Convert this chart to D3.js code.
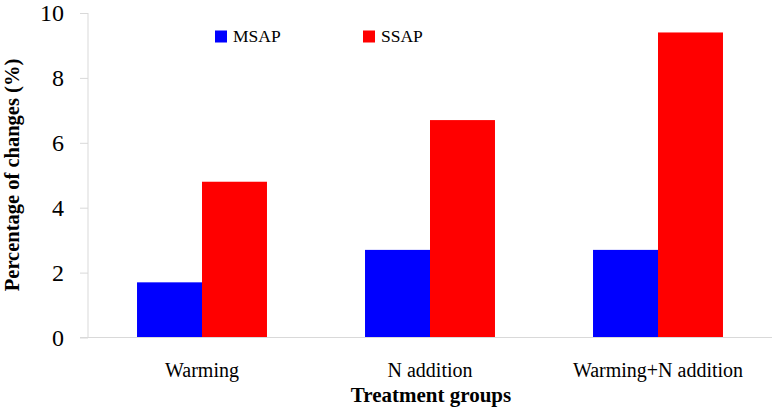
<!DOCTYPE html>
<html><head><meta charset="utf-8">
<script src="https://cdn.jsdelivr.net/npm/d3@7"></script>
<style>body{margin:0;background:#fff}svg{display:block}text{font-family:"Liberation Serif","Times New Roman",serif !important;fill:#000}</style>
</head><body><svg id="c" width="778" height="415"></svg>
<script>
const categories = ["Warming", "N addition", "Warming+N addition"];
const seriesNames = ["MSAP", "SSAP"];
const msap = [1.7, 2.7, 2.7];
const ssap = [4.8, 6.7, 9.4];
const yTicks = [0, 2, 4, 6, 8, 10];
const colors = ["#0000ff", "#ff0000"];

const svg = d3.select("#c");
const m = {left: 88, right: 6, top: 13, bottom: 77.5};
const W = 778, H = 415;
const x = d3.scaleBand().domain(categories).range([m.left, W - m.right]).paddingInner(0.43).paddingOuter(0.215);
const xs = d3.scaleBand().domain(seriesNames).range([0, x.bandwidth()]);
const y = d3.scaleLinear().domain([0, 10]).range([H - m.bottom, m.top]);
const vals = [msap, ssap];
const SERIF = '"Liberation Serif","Times New Roman",serif';

// bars
seriesNames.forEach((s, si) => {
  svg.append("g").selectAll("rect").data(categories).join("rect")
    .attr("x", c => x(c) + xs(s))
    .attr("width", xs.bandwidth())
    .attr("y", (c, i) => y(vals[si][i]))
    .attr("height", (c, i) => y(0) - y(vals[si][i]))
    .attr("fill", colors[si]);
});

// y axis
const ya = svg.append("g").attr("transform", `translate(${m.left},0)`)
  .call(d3.axisLeft(y).tickValues(yTicks).tickSize(8).tickPadding(16).tickFormat(d3.format("d")))
  .attr("font-family", SERIF);
ya.select(".domain").attr("stroke", "#d9d9d9").attr("d", `M0,${y(10)}V${y(0)}`);
ya.selectAll(".tick line").attr("stroke", "#d9d9d9");
ya.selectAll(".tick text").style("font-size", "24px").style("font-family", SERIF).attr("fill", "#000");

// x axis
const xa = svg.append("g").attr("transform", `translate(0,${y(0)})`)
  .call(d3.axisBottom(x).tickSize(0).tickPadding(25))
  .attr("font-family", SERIF);
xa.select(".domain").attr("stroke", "#d9d9d9").attr("d", `M${m.left - 8},0H${W - m.right}`);
xa.selectAll(".tick text").style("font-size", "20px").style("font-family", SERIF).attr("fill", "#000");

// axis titles
svg.append("text").attr("x", (m.left + W - m.right) / 2 + 1).attr("y", 402)
  .attr("text-anchor", "middle").attr("font-weight", "bold").style("font-size", "21px")
  .text("Treatment groups");
svg.append("text").attr("transform", "translate(19,175) rotate(-90)")
  .attr("text-anchor", "middle").attr("font-weight", "bold").style("font-size", "20.5px")
  .text("Percentage of changes (%)");

// legend
const legX = [215, 363];
seriesNames.forEach((s, i) => {
  svg.append("rect").attr("x", legX[i]).attr("y", 30.5).attr("width", 12).attr("height", 12).attr("fill", colors[i]);
  svg.append("text").attr("x", legX[i] + 18).attr("y", 42.3).style("font-size", "17.5px").text(s);
});
</script></body></html>
